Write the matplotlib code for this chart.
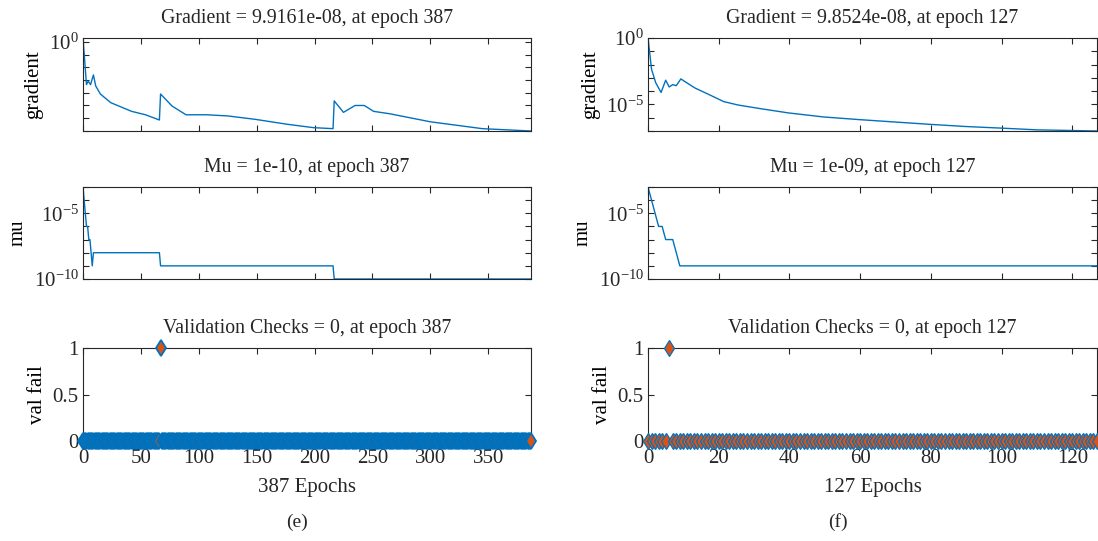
import numpy as np
import matplotlib
matplotlib.use("Agg")
import matplotlib.pyplot as plt
from matplotlib.ticker import FixedLocator, FixedFormatter, NullLocator

plt.rcParams['font.family'] = ['Liberation Serif', 'DejaVu Serif']
plt.rcParams['mathtext.fontset'] = 'custom'
plt.rcParams['mathtext.rm'] = 'Liberation Serif'
plt.rcParams['mathtext.it'] = 'Liberation Serif:italic'
plt.rcParams['font.size'] = 14

# ---- run (e): 387 epochs ----
e_epochs = 387
e_grad_ep = [0, 3, 4.5, 6.5, 9, 11, 15, 24, 42, 54, 66, 67, 77, 89, 107, 125, 149,
             176, 199, 216, 217, 225, 235, 243, 251, 265, 300, 345, 387]
e_grad_log = [0.3, -3.36, -3.09, -3.36, -2.6, -3.47, -4.1, -4.78, -5.46, -5.73, -6.14,
              -4.1, -5.05, -5.73, -5.73, -5.82, -6.09, -6.47, -6.74, -6.82, -4.64,
              -5.54, -5.0, -5.0, -5.46, -5.65, -6.28, -6.82, np.log10(9.9161e-08)]
e_mu_ep = [0, 1, 2, 3, 4, 5, 6, 7, 8, 9, 66, 67, 216, 217, 387]
e_mu_log = [-3, -4, -5, -6, -6, -7, -7, -8, -9, -8, -8, -9, -9, -10, -10]
e_fail_epoch = 67

# ---- run (f): 127 epochs ----
f_epochs = 127
f_grad_ep = [0, 1, 2.2, 3.7, 5, 6, 7, 8, 9.3, 10.3, 13.3, 17.4, 21.4, 25.5, 31.5,
             39.6, 49.7, 59.8, 69.9, 80, 90, 100, 110, 127]
f_grad_log = [0, -2.36, -3.38, -4.1, -3.18, -3.69, -3.51, -3.59, -3.08, -3.26, -3.77,
              -4.28, -4.79, -5.05, -5.31, -5.64, -5.95, -6.15, -6.33, -6.51, -6.67,
              -6.79, -6.92, np.log10(9.8524e-08)]
f_mu_ep = [0, 1, 2, 3, 4, 5, 7, 8, 9, 127]
f_mu_log = [-3, -4, -5, -6, -6, -7, -7, -8, -9, -9]
f_fail_epoch = 6

blue = '#0072BD'
red = '#D95319'
dark = '#262626'

W, H = 1098, 541
fig = plt.figure(figsize=(W / 100, H / 100), dpi=100)


def px_axes(x0, x1, y0, y1):
    return fig.add_axes([x0 / W, 1 - y1 / H, (x1 - x0) / W, (y1 - y0) / H])


def style(ax):
    for s in ax.spines.values():
        s.set_color(dark)
        s.set_linewidth(0.8)
    ax.tick_params(direction='in', top=True, right=True, length=4,
                   width=0.8, color=dark, labelcolor=dark, labelsize=15, pad=3)
    ax.yaxis.set_minor_locator(NullLocator())
    ax.xaxis.set_minor_locator(NullLocator())


def log_ticks(ax, lo, hi, labelled):
    decades = list(range(lo, hi + 1))
    ax.yaxis.set_major_locator(FixedLocator([10.0 ** d for d in decades]))
    ax.yaxis.set_major_formatter(FixedFormatter(
        ['$10^{%d}$' % d if d in labelled else '' for d in decades]))


def column(x0, x1, n, grad_ep, grad_log, mu_ep, mu_log, fail_epoch,
           xstep, g_final, mu_final, g_labels, caption, cap_x, edge_w):
    # gradient
    ax1 = px_axes(x0, x1, 38, 131)
    ax1.semilogy(grad_ep, 10.0 ** np.array(grad_log), color=blue, lw=1.0)
    ax1.set_xlim(0, n)
    ax1.set_ylim(10.0 ** min(grad_log), 10.0 ** max(grad_log))
    style(ax1)
    log_ticks(ax1, -7, 0, g_labels)
    ax1.set_xticks(np.arange(0, n + 1, xstep))
    ax1.set_xticklabels([])
    ax1.set_ylabel('gradient', fontsize=15)
    ax1.set_title('Gradient = %.4e, at epoch %d' % (g_final, n), fontsize=14.3,
                  color=dark, pad=11)

    # mu
    ax2 = px_axes(x0, x1, 187, 279)
    ax2.semilogy(mu_ep, 10.0 ** np.array(mu_log), color=blue, lw=1.0)
    ax2.set_xlim(0, n)
    ax2.set_ylim(1e-10, 1e-3)
    style(ax2)
    log_ticks(ax2, -10, -3, [-5, -10])
    ax2.set_xticks(np.arange(0, n + 1, xstep))
    ax2.set_xticklabels([])
    ax2.set_ylabel('mu', fontsize=15)
    ax2.set_title('Mu = %s, at epoch %d' % (mu_final, n), fontsize=14.3,
                  color=dark, pad=11)

    # validation checks
    ep = np.arange(n + 1)
    fails = np.zeros(n + 1)
    fails[fail_epoch] = 1
    ax3 = px_axes(x0, x1, 348, 441)
    ax3.plot(ep, fails, ls='none', marker='d', ms=8, mfc=red, mec=blue,
             mew=edge_w, clip_on=False, zorder=3)
    ax3.set_xlim(0, n)
    ax3.set_ylim(0, 1)
    style(ax3)
    ax3.set_yticks([0, 0.5, 1])
    ax3.set_yticklabels(['0', '0.5', '1'])
    ax3.set_xticks(np.arange(0, n + 1, xstep))
    ax3.tick_params(axis='x', pad=6)
    ax3.set_ylabel('val fail', fontsize=15)
    ax3.set_xlabel('%d Epochs' % n, color=dark, fontsize=15, labelpad=7)
    ax3.set_title('Validation Checks = 0, at epoch %d' % n, fontsize=14.3,
                  color=dark, pad=11)

    fig.text(cap_x / W, 1 - 522 / H, caption, ha='center', va='center',
             fontsize=14, color=dark)
    return ax1, ax2, ax3


axes_e = column(83, 531, e_epochs, e_grad_ep, e_grad_log, e_mu_ep, e_mu_log,
                e_fail_epoch, 50, 9.9161e-08, '1e-10', [0], '(e)', 297, 1.3)
axes_f = column(648, 1097, f_epochs, f_grad_ep, f_grad_log, f_mu_ep, f_mu_log,
                f_fail_epoch, 20, 9.8524e-08, '1e-09', [0, -5], '(f)', 838, 0.9)

fig.savefig('out.png', dpi=100)
